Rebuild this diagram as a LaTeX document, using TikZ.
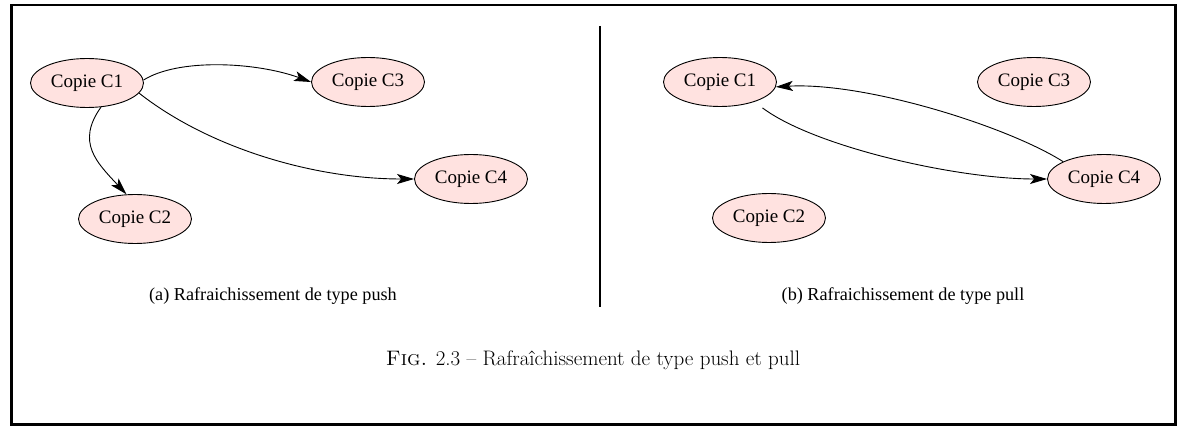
\documentclass[tikz,border=0pt]{standalone}
\usepackage{fontspec}
\newfontfamily\timesf{Liberation Serif}
\usetikzlibrary{arrows.meta,shapes.geometric}
\definecolor{nodefill}{RGB}{255,226,224}
\tikzset{
  copie/.style={ellipse, draw=black, line width=0.9pt, fill=nodefill,
    minimum width=113pt, minimum height=49pt, inner sep=0pt,
    font=\timesf\fontsize{19}{22}\selectfont},
  arr/.style={line width=0.9pt, -{Stealth[length=17pt,width=10pt,inset=4pt]}},
  subcap/.style={anchor=base, inner sep=0pt, font=\timesf\fontsize{18.2}{22}\selectfont},
  figcap/.style={anchor=base, inner sep=0pt, font=\fontsize{21}{25}\selectfont}
}
\begin{document}
\begin{tikzpicture}[x=1pt,y=1pt]
\useasboundingbox (0,0) rectangle (1177,-427);
\draw[line width=2.5pt] (11.5,-5) rectangle (1175.5,-424.5);
% left panel
\node[copie] (l1) at (87,-83) {Copie C1};
\node[copie] (l3) at (368,-82) {Copie C3};
\node[copie] (l4) at (471,-179) {Copie C4};
\node[copie] (l2) at (135,-219) {Copie C2};
\draw[arr] (l1.3) .. controls +(35,22) and +(-55,20) .. (l3.west);
\draw[arr] (l1.-11) .. controls +(70,-55) and +(-100,0) .. (l4.west);
\draw[arr] (l1.-60) .. controls +(-25,-35) and +(-30,32) .. (l2.109);
\node[subcap] (capa) at (273,-300.5) {(a) Rafraichissement de type push};
% divider
\coordinate (dtop) at (600,-26);
\coordinate (dbot) at (600,-307);
\draw[line width=1.3pt] (dtop) -- (dbot);
% right panel
\node[copie] (r1) at (720,-82) {Copie C1};
\node[copie] (r3) at (1034,-82) {Copie C3};
\node[copie] (r4) at (1104,-179) {Copie C4};
\node[copie] (r2) at (769,-218) {Copie C2};
\draw[arr] (r4.157) .. controls +(-55,35) and +(90,5) .. (r1.-5);
\draw[arr, shorten <=10pt] (r1.-30) .. controls +(60,-45) and +(-90,0) .. (r4.west);
\node[subcap] (capb) at (903,-300.5) {(b) Rafraichissement de type pull};
% caption
\node[figcap] (fig) at (593,-365) {\textsc{Fig.} 2.3 -- Rafraîchissement de type push et pull};
\end{tikzpicture}
\end{document}
